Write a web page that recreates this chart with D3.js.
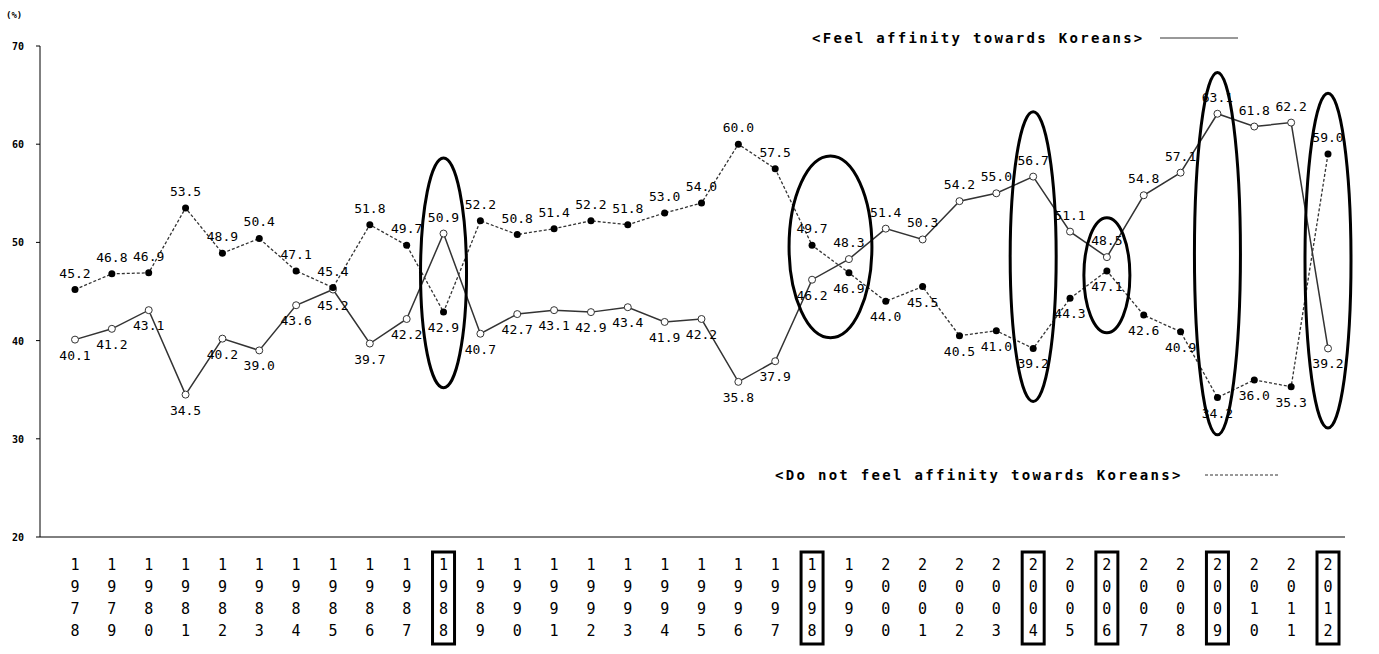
<!DOCTYPE html>
<html><head><meta charset="utf-8">
<script src="https://cdn.jsdelivr.net/npm/d3@7"></script>
<style>body{margin:0;background:#fff}</style>
</head><body>
<div id="chart"></div>
<script>
let years = d3.range(1978, 2013);
let feel = [40.1,41.2,43.1,34.5,40.2,39.0,43.6,45.2,39.7,42.2,50.9,40.7,42.7,43.1,42.9,43.4,41.9,42.2,35.8,37.9,46.2,48.3,51.4,50.3,54.2,55.0,56.7,51.1,48.5,54.8,57.1,63.1,61.8,62.2,39.2];
let notFeel = [45.2,46.8,46.9,53.5,48.9,50.4,47.1,45.4,51.8,49.7,42.9,52.2,50.8,51.4,52.2,51.8,53.0,54.0,60.0,57.5,49.7,46.9,44.0,45.5,40.5,41.0,39.2,44.3,47.1,42.6,40.9,34.2,36.0,35.3,59.0];
let yTicks = [20,30,40,50,60,70];
let highlightYears = [1988,1998,2004,2006,2009,2012];
// ellipses: [from year, to year, low value, high value]
let ellipses = [[1988,1988,35.2,58.6],[1998,1999,40.3,58.8],[2004,2004,33.8,63.3],[2006,2006,40.8,52.5],[2009,2009,30.4,67.3],[2012,2012,31.1,65.2]];

let W = 1379, H = 654;
let svg = d3.select("#chart").append("svg").attr("width", W).attr("height", H)
  .style("font-family", "'DejaVu Sans Mono', monospace");

let x = d3.scaleLinear().domain([1978, 2012]).range([75, 1328]);
let y = d3.scaleLinear().domain([20, 70]).range([537, 46]);

// axes
svg.append("line").attr("x1", 40).attr("x2", 40).attr("y1", 46).attr("y2", 537).attr("stroke", "#000");
svg.append("line").attr("x1", 40).attr("x2", 1345).attr("y1", 537).attr("y2", 537).attr("stroke", "#000");
svg.selectAll(".yt").data(yTicks).join("g").each(function(d) {
  let g = d3.select(this);
  g.append("line").attr("x1", 36).attr("x2", 40).attr("y1", y(d)).attr("y2", y(d)).attr("stroke", "#000");
  g.append("text").attr("x", 24).attr("y", y(d) + 4).attr("text-anchor", "end")
    .style("font-size", "10px").style("font-weight", "bold").text(d);
});
svg.append("text").attr("x", 6).attr("y", 18).style("font-size", "9px").style("font-weight", "bold").text("(%)");

// year labels, vertical digits
years.forEach(yr => {
  String(yr).split("").forEach((c, i) => {
    svg.append("text").attr("x", x(yr)).attr("y", 570 + i * 22).attr("text-anchor", "middle")
      .style("font-size", "15px").text(c);
  });
});
highlightYears.forEach(yr => {
  svg.append("rect").attr("x", x(yr) - 11).attr("y", 552).attr("width", 22).attr("height", 92)
    .attr("fill", "none").attr("stroke", "#000").attr("stroke-width", 3);
});

let line = d3.line().x((d, i) => x(years[i])).y(d => y(d));
svg.append("path").datum(feel).attr("d", line).attr("fill", "none").attr("stroke", "#333").attr("stroke-width", 1.5);
svg.append("path").datum(notFeel).attr("d", line).attr("fill", "none").attr("stroke", "#333").attr("stroke-width", 1.3).attr("stroke-dasharray", "3,2");

svg.selectAll(".pf").data(feel).join("circle").attr("cx", (d, i) => x(years[i])).attr("cy", d => y(d))
  .attr("r", 3.5).attr("fill", "#fff").attr("stroke", "#333");
svg.selectAll(".pn").data(notFeel).join("circle").attr("cx", (d, i) => x(years[i])).attr("cy", d => y(d))
  .attr("r", 3.5).attr("fill", "#000");

// value labels
function labels(vals, other) {
  svg.selectAll(null).data(vals).join("text")
    .attr("x", (d, i) => x(years[i]))
    .attr("y", (d, i) => y(d) + (d >= other[i] ? -12 : 20))
    .attr("text-anchor", "middle").style("font-size", "13px")
    .text(d => d.toFixed(1));
}
labels(feel, notFeel);
labels(notFeel, feel);

// ellipses
ellipses.forEach(e => {
  let cx = (x(e[0]) + x(e[1])) / 2, rx = (x(e[1]) - x(e[0])) / 2 + 23;
  svg.append("ellipse").attr("cx", cx).attr("cy", (y(e[2]) + y(e[3])) / 2)
    .attr("rx", rx).attr("ry", (y(e[2]) - y(e[3])) / 2)
    .attr("fill", "none").attr("stroke", "#000").attr("stroke-width", 3);
});

// legends
svg.append("text").attr("x", 812).attr("y", 43).style("font-size", "14px").style("font-weight", "bold")
  .style("letter-spacing", "2.3px").text("<Feel affinity towards Koreans>");
svg.append("line").attr("x1", 1160).attr("x2", 1238).attr("y1", 38).attr("y2", 38).attr("stroke", "#333");
svg.append("text").attr("x", 775).attr("y", 480).style("font-size", "14px").style("font-weight", "bold")
  .style("letter-spacing", "2.3px").text("<Do not feel affinity towards Koreans>");
svg.append("line").attr("x1", 1205).attr("x2", 1280).attr("y1", 475).attr("y2", 475).attr("stroke", "#333").attr("stroke-dasharray", "3,2");
</script>
</body></html>
